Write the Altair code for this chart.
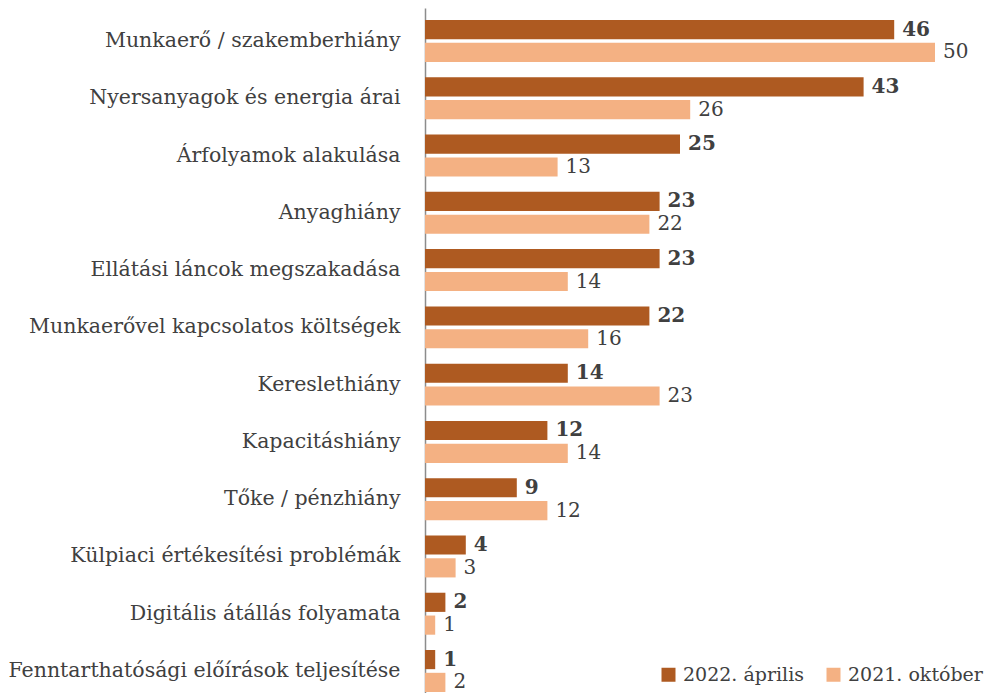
import altair as alt
import pandas as pd

categories = [
    "Munkaerő / szakemberhiány",
    "Nyersanyagok és energia árai",
    "Árfolyamok alakulása",
    "Anyaghiány",
    "Ellátási láncok megszakadása",
    "Munkaerővel kapcsolatos költségek",
    "Kereslethiány",
    "Kapacitáshiány",
    "Tőke / pénzhiány",
    "Külpiaci értékesítési problémák",
    "Digitális átállás folyamata",
    "Fenntarthatósági előírások teljesítése",
]
series = ["2022. április", "2021. október"]
v2022 = [46, 43, 25, 23, 23, 22, 14, 12, 9, 4, 2, 1]
v2021 = [50, 26, 13, 22, 14, 16, 23, 14, 12, 3, 1, 2]
colors = ["#AE5A21", "#F4B183"]

rows = []
for c, a, b in zip(categories, v2022, v2021):
    rows.append({"cat": c, "series": series[0], "value": a})
    rows.append({"cat": c, "series": series[1], "value": b})
df = pd.DataFrame(rows)

FONT = "DejaVu Serif"
FS = 20.5
TXT = "#404040"

y_enc = alt.Y(
    "cat:N",
    sort=categories,
    scale=alt.Scale(paddingInner=0.267, paddingOuter=0.21),
    axis=alt.Axis(
        title=None,
        ticks=False,
        tickSize=0,
        labelPadding=25,
        labelFont=FONT,
        labelFontSize=FS,
        labelColor=TXT,
        labelLimit=500,
        domainColor="#8C8C8C",
        domainWidth=1.5,
        grid=False,
    ),
)
x_enc = alt.X("value:Q", scale=alt.Scale(domain=[0, 55]), axis=None)
yoff = alt.YOffset("series:N", sort=series, scale=alt.Scale(paddingInner=0.16))

base = alt.Chart(df)

bars = base.mark_bar().encode(
    y=y_enc,
    x=x_enc,
    yOffset=yoff,
    color=alt.Color(
        "series:N",
        sort=series,
        scale=alt.Scale(domain=series, range=colors),
        legend=alt.Legend(
            title=None,
            orient="none",
            direction="horizontal",
            legendX=234,
            legendY=657,
            symbolType="square",
            symbolSize=196,
            symbolStrokeWidth=0,
            labelFont=FONT,
            labelFontSize=19,
            labelColor=TXT,
            labelLimit=300,
            labelOffset=5,
            columnPadding=20,
            padding=0,
        ),
    ),
)

lab_bold = base.transform_filter(alt.datum.series == series[0]).mark_text(
    align="left", baseline="middle", dx=8, font=FONT, fontSize=20,
    fontWeight="bold", color=TXT
).encode(y=y_enc, x=x_enc, yOffset=yoff, text="value:Q")

lab_norm = base.transform_filter(alt.datum.series == series[1]).mark_text(
    align="left", baseline="middle", dx=8, font=FONT, fontSize=20,
    fontWeight="normal", color=TXT
).encode(y=y_enc, x=x_enc, yOffset=yoff, text="value:Q")

chart = (
    alt.layer(bars, lab_bold, lab_norm)
    .properties(
        width=561,
        height=696,
        autosize=alt.AutoSizeParams(type="none"),
        padding={"left": 417, "top": 0, "right": 3, "bottom": 0},
    )
    .configure_view(stroke=None)
)

chart.save("out.html", embed_options={"renderer": "svg", "actions": False})
